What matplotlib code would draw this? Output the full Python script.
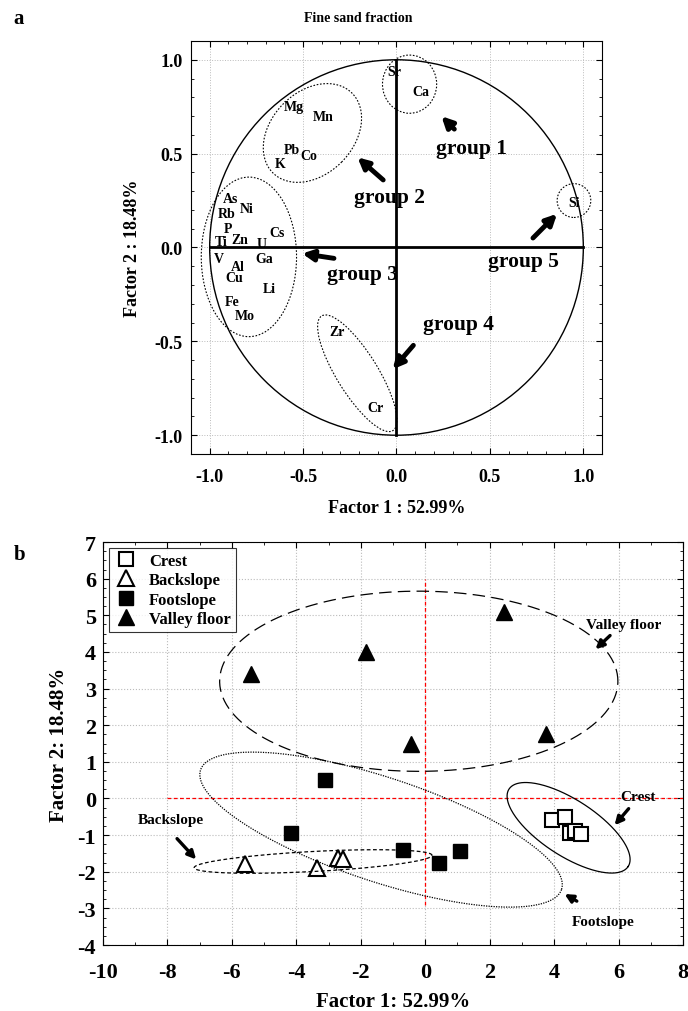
import numpy as np
import matplotlib.pyplot as plt
from matplotlib.patches import Ellipse, Circle
from matplotlib.ticker import MultipleLocator

plt.rcParams['font.family'] = ['Liberation Serif', 'DejaVu Serif']
plt.rcParams['font.weight'] = 'bold'
plt.rcParams['axes.unicode_minus'] = False

# ---- panel a: loadings of the elements
elements = ['Sr', 'Ca', 'Mg', 'Mn', 'Pb', 'Co', 'K', 'Si', 'As', 'Rb', 'Ni', 'P', 'Cs',
            'Ti', 'Zn', 'U', 'V', 'Ga', 'Al', 'Cu', 'Li', 'Fe', 'Mo', 'Zr', 'Cr']
load_x = [-0.01, 0.13, -0.55, -0.39, -0.56, -0.47, -0.62, 0.95, -0.89, -0.91, -0.80, -0.90, -0.64,
          -0.94, -0.84, -0.72, -0.95, -0.71, -0.85, -0.87, -0.68, -0.88, -0.81, -0.32, -0.11]
load_y = [0.94, 0.83, 0.75, 0.70, 0.52, 0.49, 0.45, 0.24, 0.26, 0.18, 0.21, 0.10, 0.08,
          0.03, 0.04, 0.02, -0.06, -0.06, -0.10, -0.16, -0.22, -0.29, -0.36, -0.45, -0.85]
groups = ['group 1', 'group 2', 'group 3', 'group 4', 'group 5']
group_x = [0.40, -0.04, -0.18, 0.33, 0.68]
group_y = [0.53, 0.27, -0.14, -0.41, -0.07]

# ---- panel b: factor scores
crest_x = [3.95, 4.35, 4.5, 4.65, 4.85]
crest_y = [-0.6, -0.5, -0.95, -0.9, -0.97]
back_x = [-5.6, -3.35, -2.72, -2.55]
back_y = [-1.8, -1.9, -1.62, -1.65]
foot_x = [-3.1, -4.15, -0.7, 0.42, 1.07]
foot_y = [0.5, -0.93, -1.4, -1.77, -1.44]
valley_x = [-5.4, -1.85, -0.45, 3.75, 2.45]
valley_y = [3.4, 4.0, 1.5, 1.75, 5.1]

fig = plt.figure(figsize=(6.88, 10.12), dpi=100)

# ================= panel a
ax = fig.add_axes([0.2776, 0.5504, 0.5974, 0.4081])
ax.set_xlim(-1.1, 1.1)
ax.set_ylim(-1.1, 1.1)
ax.xaxis.set_major_locator(MultipleLocator(0.5))
ax.yaxis.set_major_locator(MultipleLocator(0.5))
ax.xaxis.set_minor_locator(MultipleLocator(0.1))
ax.yaxis.set_minor_locator(MultipleLocator(0.1))
ax.tick_params(which='both', direction='in', top=True, right=True, labelsize=13)
ax.tick_params(which='major', length=4)
ax.tick_params(which='minor', length=2)
ax.tick_params(axis='x', pad=10)
ax.tick_params(axis='y', pad=6)
ax.grid(True, which='major', color='#bbbbbb', linestyle=':', linewidth=0.7)
ax.set_axisbelow(True)
for lab in ax.get_xticklabels() + ax.get_yticklabels():
    lab.set_fontweight('bold')

ax.add_patch(Circle((0, 0), 1.0, fill=False, color='black', lw=1.0))
ax.plot([-1, 1], [0, 0], color='black', lw=2)
ax.plot([0, 0], [-1, 1], color='black', lw=2)

for name, x, y in zip(elements, load_x, load_y):
    ax.text(x, y, name, fontsize=10, fontweight='bold', ha='center', va='center')
for name, x, y in zip(groups, group_x, group_y):
    ax.text(x, y, name, fontsize=15.5, fontweight='bold', ha='center', va='center')

# dotted group ellipses
ell_a = [((0.07, 0.87), 0.29, 0.31, 0), ((-0.45, 0.61), 0.60, 0.44, 45),
         ((-0.79, -0.05), 0.51, 0.85, 0), ((-0.21, -0.67), 0.72, 0.22, -58),
         ((0.95, 0.25), 0.18, 0.18, 0)]
for c, w, h, ang in ell_a:
    ax.add_patch(Ellipse(c, w, h, angle=ang, fill=False, ls=(0, (1.5, 1.5)), lw=0.8, color='black'))

arrows_a = [((0.32, 0.62), (0.23, 0.71)), ((-0.06, 0.35), (-0.22, 0.49)),
            ((-0.32, -0.06), (-0.52, -0.03)), ((0.10, -0.51), (-0.03, -0.66)),
            ((0.72, 0.04), (0.87, 0.19))]
for tail, head in arrows_a:
    ax.annotate('', xy=head, xytext=tail,
                arrowprops=dict(arrowstyle='-|>', lw=3.5, color='black', mutation_scale=16))

ax.set_xlabel('Factor 1 : 52.99%', fontsize=13, fontweight='bold', labelpad=10)
ax.set_ylabel('Factor 2 : 18.48%', fontsize=13, fontweight='bold', labelpad=10)
fig.text(0.52, 0.982, 'Fine sand fraction', fontsize=10, fontweight='bold', ha='center', va='center')
fig.text(0.02, 0.981, 'a', fontsize=15, fontweight='bold', ha='left', va='center')

# ================= panel b
bx = fig.add_axes([0.1497, 0.0652, 0.843, 0.3982])
bx.set_xlim(-10, 8)
bx.set_ylim(-4, 7)
bx.xaxis.set_major_locator(MultipleLocator(2))
bx.yaxis.set_major_locator(MultipleLocator(1))
bx.xaxis.set_minor_locator(MultipleLocator(1))
bx.yaxis.set_minor_locator(MultipleLocator(0.25))
bx.tick_params(which='both', direction='in', top=True, right=True, labelsize=16)
bx.tick_params(which='major', length=4)
bx.tick_params(which='minor', length=2)
bx.tick_params(axis='x', pad=12)
bx.tick_params(axis='y', pad=5)
bx.grid(True, which='major', color='#bbbbbb', linestyle=':', linewidth=0.8)
bx.set_axisbelow(True)
for lab in bx.get_xticklabels() + bx.get_yticklabels():
    lab.set_fontweight('bold')

bx.plot([0, 0], [-2.9, 6.0], color='red', ls='--', lw=0.9, dashes=(3, 2))
bx.plot([-8, 8], [0, 0], color='red', ls='--', lw=0.9, dashes=(3, 2))

ms = 10
bx.plot(crest_x, crest_y, 's', ms=ms, mfc='white', mec='black', mew=1.5, ls='none', label='Crest')
bx.plot(back_x, back_y, '^', ms=ms + 1, mfc='white', mec='black', mew=1.5, ls='none', label='Backslope')
bx.plot(foot_x, foot_y, 's', ms=ms, mfc='black', mec='black', ls='none', label='Footslope')
bx.plot(valley_x, valley_y, '^', ms=ms + 1, mfc='black', mec='black', ls='none', label='Valley floor')

# ellipses defined in pixel-like units so the tilt looks right on screen
sx, sy = 32.2, 36.6


def ell(axis, cx, cy, a, b, ang, **kw):
    t = np.linspace(0, 2 * np.pi, 300)
    th = np.radians(ang)
    ex = cx + (a * np.cos(th) * np.cos(t) - b * np.sin(th) * np.sin(t)) / sx
    ey = cy + (a * np.sin(th) * np.cos(t) + b * np.cos(th) * np.sin(t)) / sy
    axis.plot(ex, ey, color='black', **kw)


ell(bx, -0.2, 3.2, 199, 90, 0, lw=0.9, dashes=(10, 5))
ell(bx, 4.45, -0.8, 71, 28, -33, lw=0.9)
ell(bx, -3.48, -1.72, 119, 10, 3, lw=0.9, dashes=(3, 2))
ell(bx, -1.37, -0.85, 190, 52, -18.3, lw=0.9, dashes=(1, 1))

labels_b = ['Valley floor', 'Crest', 'Backslope', 'Footslope']
lab_x = [6.15, 6.6, -7.9, 5.53]
lab_y = [4.75, 0.05, -0.57, -3.36]
for name, x, y in zip(labels_b, lab_x, lab_y):
    bx.text(x, y, name, fontsize=11, fontweight='bold', ha='center', va='center')

arrows_b = [((5.8, 4.5), (5.22, 4.02)), ((6.37, -0.22), (5.82, -0.79)),
            ((-7.76, -1.04), (-7.05, -1.72)), ((4.78, -2.84), (4.25, -2.57))]
for tail, head in arrows_b:
    bx.annotate('', xy=head, xytext=tail,
                arrowprops=dict(arrowstyle='-|>', lw=2.4, color='black', mutation_scale=12))

leg = bx.legend(loc='upper left', fontsize=12, frameon=True, fancybox=False, edgecolor='black',
                handletextpad=0.6, borderpad=0.3, labelspacing=0.2, handlelength=1.5,
                borderaxespad=0.35)
leg.get_frame().set_linewidth(0.8)
for t in leg.get_texts():
    t.set_fontweight('bold')

bx.set_xlabel('Factor 1: 52.99%', fontsize=15, fontweight='bold', labelpad=7)
bx.set_ylabel('Factor 2: 18.48%', fontsize=15, fontweight='bold', labelpad=6)
fig.text(0.02, 0.452, 'b', fontsize=15, fontweight='bold', ha='left', va='center')

fig.savefig('out.png', dpi=100)
